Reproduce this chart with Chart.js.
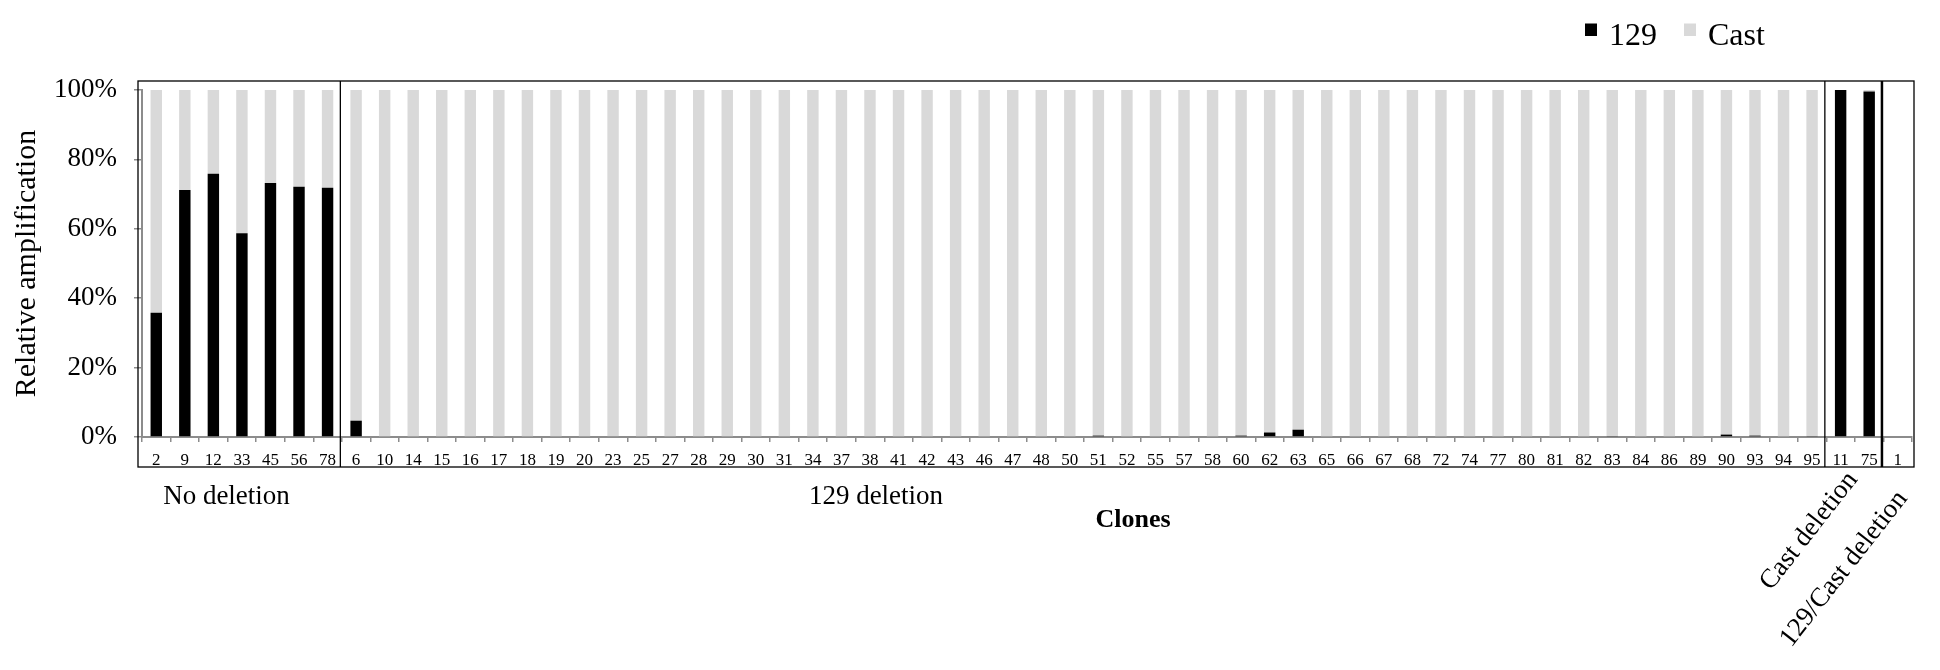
<!DOCTYPE html>
<html><head><meta charset="utf-8">
<script src="https://cdn.jsdelivr.net/npm/chart.js@4"></script>
<style>html,body{margin:0;padding:0;background:#fff;}</style>
</head><body>
<canvas id="c" width="1940" height="670"></canvas>
<script>
// ---- data ----
const noDeletionClones = ['2','9','12','33','45','56','78'];
const del129Clones = ['6','10','14','15','16','17','18','19','20','23','25','27','28','29','30','31','34','37','38','41','42','43','46','47','48','50','51','52','55','57','58','60','62','63','65','66','67','68','72','74','77','80','81','82','83','84','86','89','90','93','94','95'];
const castDelClones = ['11','75'];
const bothDelClones = ['1'];

const noDeletion129 = [35.8,71.2,75.9,58.7,73.2,72.1,71.8];
const del129_129 = [4.7,0,0,0,0,0,0,0,0,0.2,0,0,0,0,0,0,0,0,0,0,0,0,0,0,0,0,0.4,0,0,0,0,0.4,1.3,2.1,0,0,0,0,0,0,0,0,0,0,0.1,0,0,0,0.7,0.4,0,0.1];
const castDel129 = [100,99.6];
const bothDel129 = [0];

const noDeletionCast = [64.2,28.8,24.1,41.3,26.8,27.9,28.2];
const del129_Cast = [95.3,100,100,100,100,100,100,100,100,99.8,100,100,100,100,100,100,100,100,100,100,100,100,100,100,100,100,99.6,100,100,100,100,99.6,98.7,97.9,100,100,100,100,100,100,100,100,100,100,99.9,100,100,100,99.3,99.6,100,99.9];
const castDelCast = [0,0.4];
const bothDelCast = [0];

const yTicks = [0,20,40,60,80,100];
const groupNames = ['No deletion','129 deletion','Cast deletion','129/Cast deletion'];
const xTitle = 'Clones';
const yTitle = 'Relative amplification';
const seriesNames = ['129','Cast'];
const seriesColors = ['#000000','#d9d9d9'];

const categories = [].concat(noDeletionClones, del129Clones, castDelClones, bothDelClones);
const values129 = [].concat(noDeletion129, del129_129, castDel129, bothDel129);
const valuesCast = [].concat(noDeletionCast, del129_Cast, castDelCast, bothDelCast);
const groupSizes = [noDeletionClones.length, del129Clones.length, castDelClones.length, bothDelClones.length];

const FONT = "'Liberation Serif','Times New Roman',serif";

const decor = {
  id: 'decor',
  afterDraw(chart) {
    const ctx = chart.ctx;
    const a = chart.chartArea;
    const xs = chart.scales.x;
    ctx.save();
    // frame
    ctx.strokeStyle = '#000';
    ctx.lineWidth = 1.3;
    const L = a.left - 4, T = a.top - 9, R = a.right + 2, B = a.bottom + 30;
    ctx.strokeRect(L, T, R - L, B - T);
    // group separators
    let idx = 0;
    for (let g = 0; g < groupSizes.length - 1; g++) {
      idx += groupSizes[g];
      const x = (xs.getPixelForValue(idx - 1) + xs.getPixelForValue(idx)) / 2 - 1.5;
      ctx.lineWidth = (g === groupSizes.length - 2) ? 2.5 : 1.3;
      ctx.beginPath(); ctx.moveTo(x, T); ctx.lineTo(x, B); ctx.stroke();
    }
    // group labels
    ctx.fillStyle = '#000';
    ctx.textAlign = 'center';
    ctx.textBaseline = 'middle';
    ctx.font = '27px ' + FONT;
    ctx.fillText(groupNames[0], 226.5, 497);
    ctx.fillText(groupNames[1], 876, 497);
    const ang = -52 * Math.PI / 180;
    ctx.save(); ctx.translate(1809, 531); ctx.rotate(ang); ctx.fillText(groupNames[2], 0, 0); ctx.restore();
    ctx.save(); ctx.translate(1844, 569); ctx.rotate(ang); ctx.fillText(groupNames[3], 0, 0); ctx.restore();
    // x title
    ctx.font = 'bold 26px ' + FONT;
    ctx.fillText(xTitle, 1133, 520);
    // legend
    ctx.font = '32px ' + FONT;
    ctx.textAlign = 'left';
    ctx.textBaseline = 'alphabetic';
    const lx = [1585, 1684];
    chart.data.datasets.forEach((ds, i) => {
      ctx.fillStyle = ds.backgroundColor;
      ctx.fillRect(lx[i], 23.5, 12, 12.5);
      ctx.fillStyle = '#000';
      ctx.fillText(ds.label, lx[i] + 24, 45);
    });
    ctx.restore();
  }
};

new Chart(document.getElementById('c'), {
  type: 'bar',
  data: {
    labels: categories,
    datasets: [
      { label: seriesNames[0], data: values129, backgroundColor: seriesColors[0], borderWidth: 0, barPercentage: 0.4, categoryPercentage: 1 },
      { label: seriesNames[1], data: valuesCast, backgroundColor: seriesColors[1], borderWidth: 0, barPercentage: 0.4, categoryPercentage: 1 }
    ]
  },
  options: {
    responsive: false,
    animation: false,
    devicePixelRatio: 1,
    layout: { padding: { top: 90, right: 28, left: 0, bottom: 0 } },
    plugins: { legend: { display: false }, tooltip: { enabled: false } },
    scales: {
      x: {
        stacked: true,
        afterFit(s) { s.height = 233; },
        grid: { drawOnChartArea: false, drawTicks: true, tickLength: 5, color: '#8c8c8c', lineWidth: 1.5, offset: true },
        border: { display: true, color: '#8c8c8c', width: 2 },
        ticks: { autoSkip: false, maxRotation: 0, minRotation: 0, padding: 8, color: '#000', font: { family: FONT, size: 17 } }
      },
      y: {
        stacked: true,
        min: 0, max: 100,
        afterFit(s) { s.width = 142; },
        afterBuildTicks(s) { s.ticks = yTicks.map(v => ({ value: v })); },
        grid: { drawOnChartArea: false, drawTicks: true, tickLength: 8, color: '#8c8c8c', lineWidth: 1.5 },
        border: { display: true, color: '#8c8c8c', width: 2 },
        ticks: { padding: 17, color: '#000', font: { family: FONT, size: 27 }, callback: v => v + '%' },
        title: { display: true, text: yTitle, color: '#000', font: { family: FONT, size: 30 }, padding: { top: 9, bottom: 0 } }
      }
    }
  },
  plugins: [decor]
});
</script>
</body></html>
